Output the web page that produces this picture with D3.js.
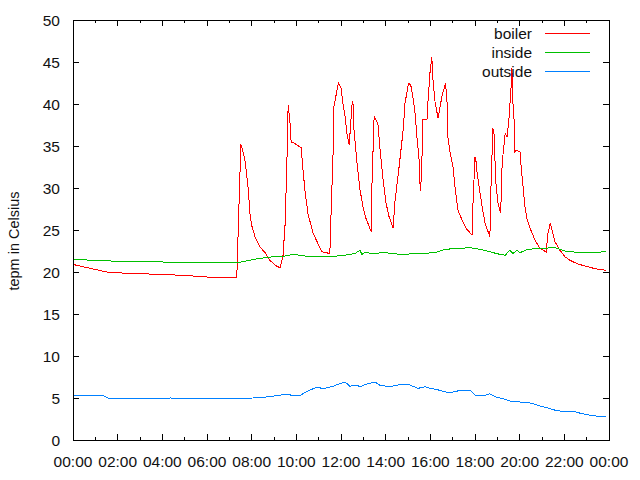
<!DOCTYPE html>
<html>
<head>
<meta charset="utf-8">
<script src="https://cdn.jsdelivr.net/npm/d3@7"></script>
<style>
  body { margin: 0; background: #fff; }
  svg text { font-family: "Liberation Sans", Arial, sans-serif; font-size: 15.5px; fill: #111; }
</style>
</head>
<body>
<div id="chart"></div>
<script>
// readings, time of day -> temperature
const boiler = [
  ["00:00",20.9],["00:30",20.6],["01:00",20.3],["01:30",20.0],["02:00",19.9],["03:00",19.8],
  ["04:00",19.7],["05:00",19.6],["06:00",19.4],["07:20",19.4],["07:31",35.2],["07:35",34.6],
  ["07:42",33.3],["07:51",29.8],["07:56",26.6],["08:01",25.4],["08:09",24.2],["08:22",23.0],
  ["08:36",22.3],["08:49",21.4],["09:03",20.8],["09:16",20.5],["09:24",21.8],["09:30",25.8],
  ["09:35",33.7],["09:38",39.9],["09:43",37.7],["09:46",35.5],["09:56",35.3],["10:13",34.8],
  ["10:18",32.1],["10:23",29.8],["10:31",27.0],["10:45",24.6],["10:58",23.4],["11:09",22.4],
  ["11:30",22.2],["11:33",26.6],["11:39",34.5],["11:41",39.7],["11:53",42.5],["12:00",41.9],
  ["12:05",40.1],["12:11",38.5],["12:16",36.5],["12:22",35.1],["12:30",40.1],["12:32",40.3],
  ["12:35",36.9],["12:43",33.0],["12:51",29.8],["12:59",27.8],["13:07",26.4],["13:21",24.8],
  ["13:23",30.2],["13:29",38.5],["13:34",38.1],["13:39",37.7],["13:45",34.5],["13:53",31.0],
  ["14:01",28.2],["14:09",26.6],["14:20",25.2],["14:25",28.4],["14:36",32.5],["14:47",36.9],
  ["14:52",40.1],["15:00",42.1],["15:03",42.5],["15:08",42.1],["15:13",40.9],["15:19",38.9],
  ["15:24",36.1],["15:30",33.3],["15:32",30.6],["15:34",29.6],["15:38",34.2],["15:40",38.1],
  ["15:51",38.1],["15:54",40.5],["15:59",43.7],["16:04",45.6],["16:07",42.9],["16:13",40.1],
  ["16:21",38.3],["16:31",40.9],["16:41",42.5],["16:45",40.1],["16:47",36.1],["16:53",34.2],
  ["17:01",32.5],["17:06",30.2],["17:14",27.4],["17:25",26.2],["17:36",25.2],["17:52",24.4],
  ["17:55",28.6],["18:00",33.7],["18:03",33.1],["18:05",32.1],["18:11",30.2],["18:19",27.8],
  ["18:27",25.8],["18:40",24.2],["18:43",30.2],["18:48",37.1],["18:51",36.5],["18:56",30.6],
  ["19:02",28.2],["19:09",27.0],["19:13",33.0],["19:21",36.5],["19:26",36.1],["19:31",38.1],
  ["19:37",42.1],["19:39",44.3],["19:42",40.1],["19:45",38.1],["19:47",34.2],["19:50",34.5],
  ["20:01",34.3],["20:04",32.5],["20:09",30.2],["20:14",27.8],["20:20",26.2],["20:30",25.0],
  ["20:41",23.8],["20:55",22.8],["21:11",22.4],["21:16",24.6],["21:22",25.8],["21:27",25.0],
  ["21:35",23.6],["21:48",22.6],["22:02",21.8],["22:15",21.4],["22:34",21.0],["22:56",20.7],
  ["23:22",20.4],["23:52",20.2]
];

const inside = [
  ["00:00",21.5],["01:47",21.3],["03:54",21.2],["05:06",21.1],["07:21",21.1],["08:17",21.6],
  ["08:55",21.8],["09:30",21.9],["09:51",22.1],["10:23",21.9],["11:25",21.8],["12:11",22.0],
  ["12:38",22.2],["12:51",22.6],["12:56",22.1],["13:07",22.4],["13:18",22.2],["13:58",22.3],
  ["14:39",22.1],["15:32",22.2],["16:13",22.3],["16:39",22.7],["17:47",22.9],["18:13",22.7],
  ["18:40",22.4],["19:07",22.1],["19:21",22.0],["19:34",22.6],["19:42",22.2],["19:53",22.6],
  ["20:01",22.3],["20:22",22.7],["20:55",22.8],["21:35",22.9],["22:02",22.5],["22:42",22.3],
  ["23:52",22.4]
];

const outside = [
  ["00:00",5.25],["00:32",5.35],["01:21",5.3],["01:34",5.0],["02:52",4.9],["04:21",5.0],
  ["06:08",4.9],["08:04",5.0],["08:49",5.15],["09:24",5.4],["10:10",5.3],["10:29",5.8],
  ["10:56",6.3],["11:12",6.1],["11:39",6.4],["11:49",6.6],["12:11",6.9],["12:24",6.4],
  ["12:43",6.55],["12:51",6.3],["13:04",6.6],["13:31",6.9],["13:45",6.5],["14:12",6.35],
  ["14:39",6.6],["15:05",6.55],["15:27",6.15],["15:46",6.35],["15:59",6.15],["16:18",6.0],
  ["16:39",5.75],["16:53",5.6],["17:09",5.8],["17:28",5.95],["17:47",5.9],["18:00",5.35],
  ["18:27",5.3],["18:40",5.5],["18:54",5.15],["19:21",4.85],["19:39",4.55],["20:20",4.5],
  ["20:41",4.25],["20:55",4.05],["21:16",3.8],["21:35",3.55],["22:02",3.35],["22:29",3.35],
  ["22:42",3.2],["23:09",2.95],["23:36",2.8],["23:52",2.8]
];

const xTickLabels = ["00:00","02:00","04:00","06:00","08:00","10:00","12:00",
                     "14:00","16:00","18:00","20:00","22:00","00:00"];
const yTicks = [0, 5, 10, 15, 20, 25, 30, 35, 40, 45, 50];
const seriesNames = ["boiler", "inside", "outside"];
const seriesColors = ["#ff0000", "#00c000", "#0080ff"];

const margin = { top: 20, right: 31, bottom: 40, left: 73 };
const width = 640 - margin.left - margin.right;
const height = 480 - margin.top - margin.bottom;

const hours = t => { const p = t.split(":"); return +p[0] + p[1] / 60; };

const x = d3.scaleLinear().domain([0, 24]).range([0, width]);
const y = d3.scaleLinear().domain([0, 50]).range([height, 0]);

const svg = d3.select('#chart').append('svg')
    .attr('width', 640)
    .attr('height', 480)
  .append('g')
    .attr('transform', 'translate(' + margin.left + ',' + margin.top + ')');

// ticks (gnuplot style: inward, mirrored)
const majorX = xTickLabels.map((d, i) => i * 2);
const minorX = d3.range(1, 24, 2);
const tickG = svg.append('g').attr('stroke', '#000').attr('stroke-width', 1)
    .attr('shape-rendering', 'crispEdges');
majorX.forEach(h => {
  tickG.append('line').attr('x1', x(h)).attr('x2', x(h)).attr('y1', height).attr('y2', height - 6);
  tickG.append('line').attr('x1', x(h)).attr('x2', x(h)).attr('y1', 0).attr('y2', 6);
});
minorX.forEach(h => {
  tickG.append('line').attr('x1', x(h)).attr('x2', x(h)).attr('y1', height).attr('y2', height - 3);
  tickG.append('line').attr('x1', x(h)).attr('x2', x(h)).attr('y1', 0).attr('y2', 3);
});
yTicks.forEach(v => {
  tickG.append('line').attr('x1', 0).attr('x2', 6).attr('y1', y(v)).attr('y2', y(v));
  tickG.append('line').attr('x1', width).attr('x2', width - 6).attr('y1', y(v)).attr('y2', y(v));
});

// tick labels
svg.append('g').selectAll('text').data(xTickLabels).enter().append('text')
    .attr('x', (d, i) => x(i * 2))
    .attr('y', height + 27)
    .attr('text-anchor', 'middle')
    .text(d => d);

svg.append('g').selectAll('text').data(yTicks).enter().append('text')
    .attr('x', -13)
    .attr('y', d => y(d) + 5.5)
    .attr('text-anchor', 'end')
    .text(d => d);

svg.append('text')
    .attr('transform', 'translate(-54,' + (height / 2 + 11) + ') rotate(-90)')
    .attr('text-anchor', 'middle')
    .style('font-size', '14.5px')
    .text('tepm in Celsius');

// lines
const line = d3.line()
    .x(d => x(hours(d[0])))
    .y(d => y(d[1]));

[boiler, inside, outside].forEach((data, i) => {
  svg.append('path')
      .datum(data)
      .attr('fill', 'none')
      .attr('stroke', seriesColors[i])
      .attr('stroke-width', 1)
      .attr('shape-rendering', 'crispEdges')
      .attr('d', line);
});

// legend
const legend = svg.append('g');
seriesNames.forEach((name, i) => {
  const ly = 13.5 + i * 19;
  legend.append('text')
      .attr('x', 459)
      .attr('y', ly + 5.5)
      .attr('text-anchor', 'end')
      .text(name);
  legend.append('path')
      .attr('d', 'M472,' + ly + 'H517')
      .attr('fill', 'none')
      .attr('stroke', seriesColors[i])
      .attr('stroke-width', 1);
});

// border
svg.append('rect')
    .attr('width', width).attr('height', height)
    .attr('fill', 'none').attr('stroke', '#000')
    .attr('shape-rendering', 'crispEdges');
</script>
</body>
</html>
